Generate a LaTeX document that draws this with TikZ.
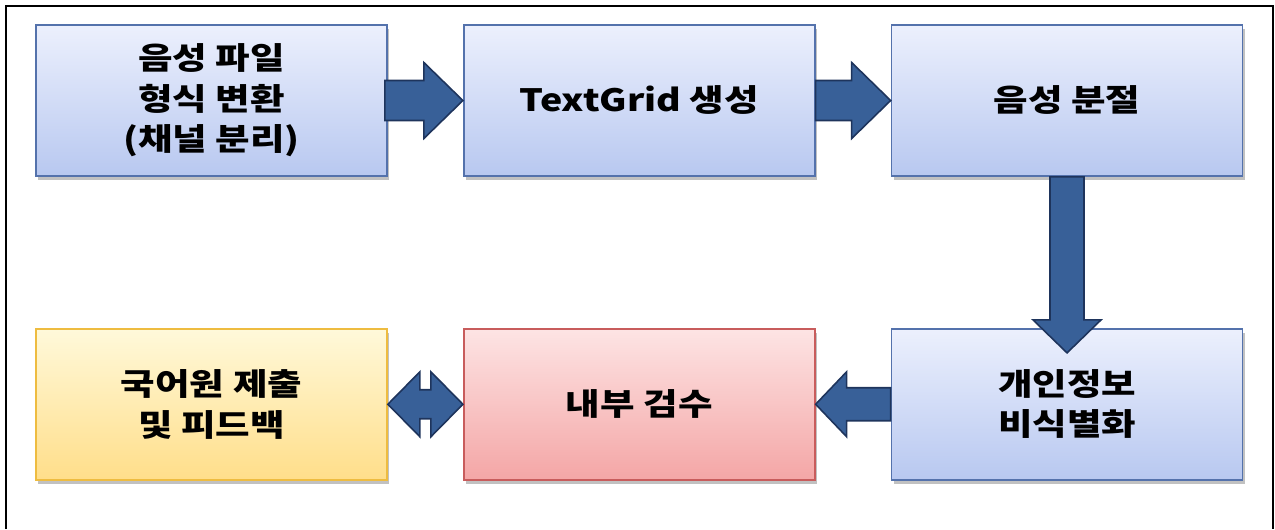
\documentclass[tikz,border=0pt]{standalone}
\usepackage{fontspec}
\setmainfont{Noto Sans CJK KR}[FakeStretch=1.22]
\usetikzlibrary{positioning, calc, shadows}
\definecolor{stepline}{RGB}{84,114,172}
\definecolor{steptop}{RGB}{236,240,253}
\definecolor{stepbot}{RGB}{184,200,240}
\definecolor{checkline}{RGB}{200,92,92}
\definecolor{checktop}{RGB}{253,228,228}
\definecolor{checkbot}{RGB}{244,166,166}
\definecolor{sendline}{RGB}{238,188,64}
\definecolor{sendtop}{RGB}{255,249,218}
\definecolor{sendbot}{RGB}{255,222,138}
\definecolor{arrowfill}{RGB}{56,96,152}
\definecolor{arrowline}{RGB}{30,52,92}

\tikzset{
  stepbox/.style={draw=stepline, line width=1pt, top color=steptop, bottom color=stepbot,
    minimum width=7.02cm, minimum height=3.02cm, align=center,
    drop shadow={shadow xshift=0.04cm, shadow yshift=-0.08cm, opacity=0.35, fill=black!70}},
  checkbox/.style={stepbox, draw=checkline, top color=checktop, bottom color=checkbot},
  sendbox/.style={stepbox, draw=sendline, top color=sendtop, bottom color=sendbot},
  % block arrow: half shaft, half head, head length
  fatarrow/.style n args={3}{draw=arrowline, fill=arrowfill, line width=0.9pt,
    to path={let \p1=(\tikztostart), \p2=(\tikztotarget), \n1={atan2(\y2-\y1,\x2-\x1)} in
      ($(\p1)+(\n1+90:#1)$) -- ($(\p2)+(\n1+180:#3)+(\n1+90:#1)$)
      -- ($(\p2)+(\n1+180:#3)+(\n1+90:#2)$) -- (\p2)
      -- ($(\p2)+(\n1+180:#3)+(\n1-90:#2)$) -- ($(\p2)+(\n1+180:#3)+(\n1-90:#1)$)
      -- ($(\p1)+(\n1-90:#1)$) -- cycle}},
  fatdouble/.style n args={3}{draw=arrowline, fill=arrowfill, line width=0.9pt,
    to path={let \p1=(\tikztostart), \p2=(\tikztotarget), \n1={atan2(\y2-\y1,\x2-\x1)} in
      (\p1) -- ($(\p1)+(\n1:#3)+(\n1+90:#2)$) -- ($(\p1)+(\n1:#3)+(\n1+90:#1)$)
      -- ($(\p2)+(\n1+180:#3)+(\n1+90:#1)$) -- ($(\p2)+(\n1+180:#3)+(\n1+90:#2)$)
      -- (\p2)
      -- ($(\p2)+(\n1+180:#3)+(\n1-90:#2)$) -- ($(\p2)+(\n1+180:#3)+(\n1-90:#1)$)
      -- ($(\p1)+(\n1:#3)+(\n1-90:#1)$) -- ($(\p1)+(\n1:#3)+(\n1-90:#2)$) -- cycle}}
}

\begin{document}
\begin{tikzpicture}[font=\fontsize{17.5}{23}\selectfont\bfseries, node distance=1.5cm]
  \useasboundingbox (0,0) rectangle (25.5,-10.58);
  % outer frame, open at the bottom
  \draw[line width=0.8pt] (0.12,-10.58) -- (0.12,-0.12) -- (25.46,-0.12) -- (25.46,-10.58);

  % top row
  \node[stepbox] (convert) at (4.23,-2.01) {음성 파일\\형식 변환\\(채널 분리)};
  \node[stepbox, right=of convert] (textgrid) {TextGrid 생성};
  \node[stepbox, right=of textgrid] (segment) {음성 분절};

  % bottom row
  \node[stepbox, below=3.02cm of segment] (deident) {개인정보\\비식별화};
  \node[checkbox, left=of deident] (review) {내부 검수};
  \node[sendbox, left=of review] (submit) {국어원 제출\\및 피드백};

  % block arrows
  \draw[fatarrow={0.4cm}{0.76cm}{0.78cm}] ($(convert.east)+(-0.06,0)$) to (textgrid.west);
  \draw[fatarrow={0.4cm}{0.76cm}{0.78cm}] (textgrid.east) to (segment.west);
  \draw[fatarrow={0.34cm}{0.68cm}{0.66cm}] (segment.south) to ($(deident.north)+(0,-0.5)$);
  \draw[fatarrow={0.33cm}{0.65cm}{0.62cm}] (deident.west) to (review.east);
  \draw[fatdouble={0.29cm}{0.65cm}{0.64cm}] (submit.east) to (review.west);
\end{tikzpicture}
\end{document}
